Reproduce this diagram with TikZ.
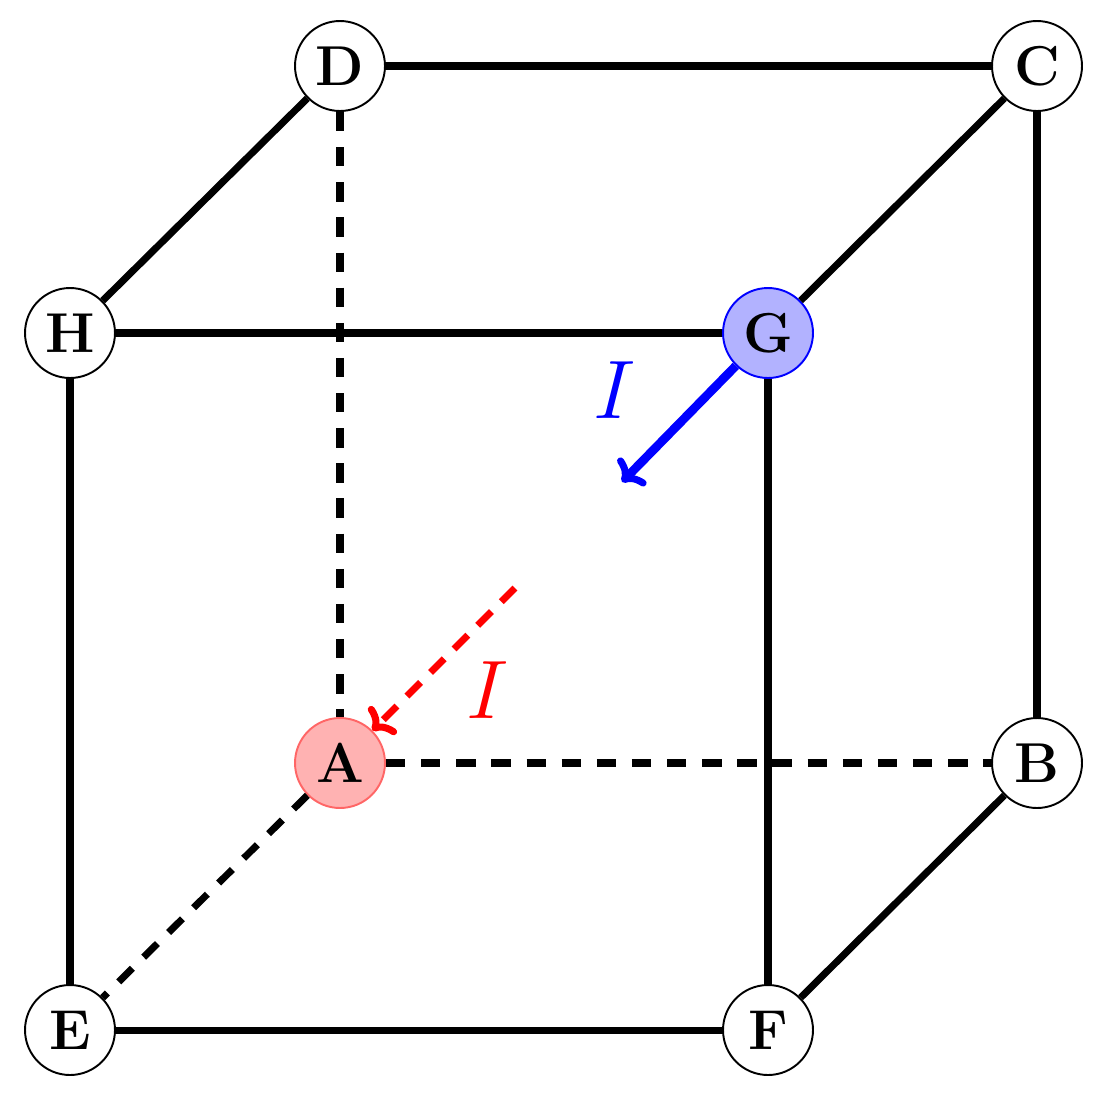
\documentclass[tikz,border=0pt]{standalone}
\usetikzlibrary{arrows.meta}
\begin{document}
\begin{tikzpicture}[x=0.02cm,y=-0.02cm,
  vert/.style={circle,draw,line width=1.1pt,minimum size=1.8cm,inner sep=0pt,font=\fontsize{32}{36}\selectfont\bfseries,fill=white},
  edge/.style={line width=4pt},
  hid/.style={line width=4pt,dash pattern=on 11pt off 9pt},
  tip/.style={-{To[length=10pt,width=22pt,line width=4pt]}},
  lab/.style={scale=1.9,font=\Huge}]
\useasboundingbox (0,0) rectangle (1099,1096);
\node[vert] (D) at (340,66) {D};
\node[vert] (C) at (1037,66) {C};
\node[vert] (H) at (70,333) {H};
\node[vert,fill=blue!30,draw=blue] (G) at (768,333) {G};
\node[vert,fill=red!30,draw=red!60] (A) at (340,763) {A};
\node[vert] (B) at (1037,763) {B};
\node[vert] (E) at (70,1030) {E};
\node[vert] (F) at (768,1030) {F};
\draw[hid] (D) -- (A);
\draw[hid] (A) -- (B);
\draw[hid] (A) -- (E);
\draw[edge] (D) -- (C);
\draw[edge] (D) -- (H);
\draw[edge] (C) -- (G);
\draw[edge] (H) -- (G);
\draw[edge] (H) -- (E);
\draw[edge] (G) -- (F);
\draw[edge] (C) -- (B);
\draw[edge] (B) -- (F);
\draw[edge] (E) -- (F);
\coordinate (g1) at (622,482);
\coordinate (r0) at (515,588);
\draw[blue,line width=5pt,tip] (G) -- (g1);
\draw[red,line width=4pt,dash pattern=on 11pt off 8pt,tip] (r0) -- (A);
\node[blue,lab] (lb) at (615,390) {$I$};
\node[red,lab] (lr) at (488,690) {$I$};
\end{tikzpicture}
\end{document}
